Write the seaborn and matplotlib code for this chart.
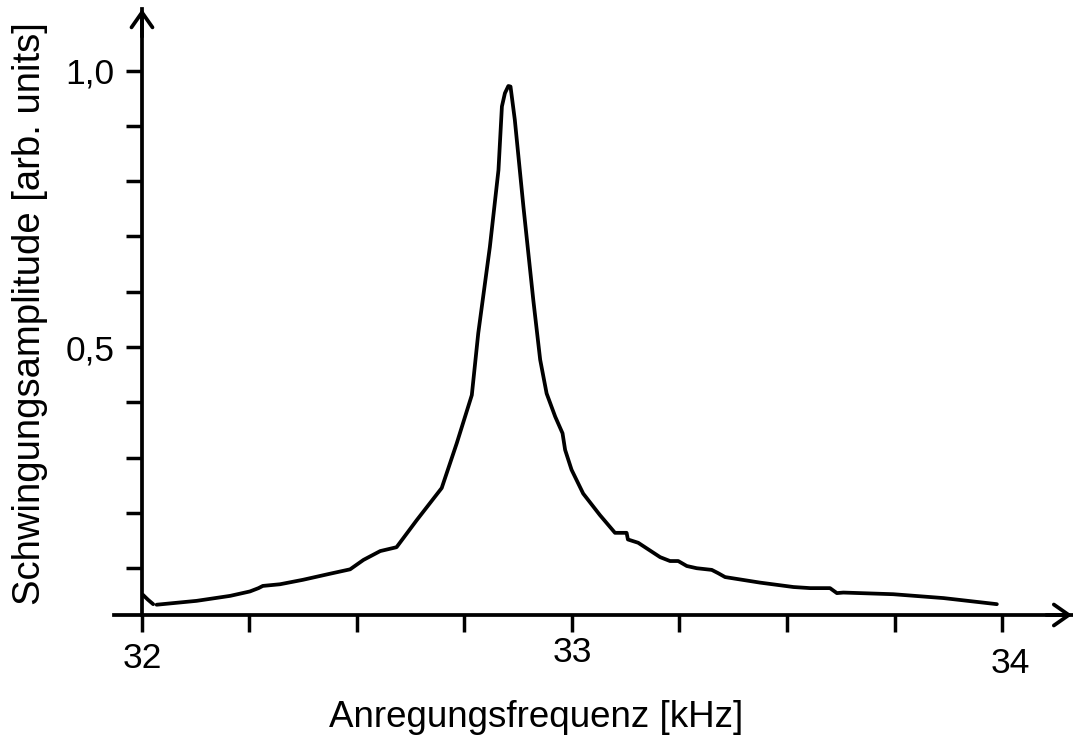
import matplotlib
matplotlib.use("Agg")
import matplotlib.pyplot as plt
import matplotlib.ticker as mticker
import matplotlib.transforms as mtransforms
import pandas as pd
import seaborn as sns

# resonance curve (kHz, arb. units), two segments
freq_a = [32.002, 32.014, 32.026]
amp_a = [0.052, 0.043, 0.035]

freq_b = [32.034, 32.127, 32.205, 32.251, 32.271, 32.281, 32.321, 32.374,
          32.437, 32.484, 32.515, 32.554, 32.592, 32.639, 32.697, 32.732,
          32.767, 32.782, 32.809, 32.829, 32.837, 32.844, 32.852, 32.857,
          32.867, 32.887, 32.910, 32.926, 32.941, 32.961, 32.978, 32.984,
          32.999, 33.026, 33.065, 33.100, 33.127, 33.130, 33.154, 33.205,
          33.228, 33.247, 33.267, 33.290, 33.325, 33.340, 33.356, 33.437,
          33.515, 33.554, 33.600, 33.616, 33.631, 33.747, 33.864, 33.988]
amp_b = [0.034, 0.041, 0.050, 0.058, 0.064, 0.068, 0.071, 0.079,
         0.090, 0.098, 0.115, 0.131, 0.138, 0.187, 0.245, 0.326,
         0.413, 0.525, 0.681, 0.820, 0.935, 0.959, 0.972, 0.971,
         0.911, 0.754, 0.585, 0.477, 0.416, 0.374, 0.344, 0.314,
         0.278, 0.235, 0.196, 0.164, 0.164, 0.152, 0.146, 0.120,
         0.113, 0.113, 0.104, 0.100, 0.097, 0.091, 0.084, 0.074,
         0.066, 0.064, 0.064, 0.055, 0.056, 0.053, 0.046, 0.035]

x_ticks = [32.0, 32.25, 32.5, 32.75, 33.0, 33.25, 33.5, 33.75, 34.0]
y_ticks = [0.1, 0.2, 0.3, 0.4, 0.5, 0.6, 0.7, 0.8, 0.9, 1.0]
y_labelled = [0.5, 1.0]

x_label = "Anregungsfrequenz [kHz]"
y_label = "Schwingungsamplitude [arb. units]"

# where the axes cross and where the arrows end
x_cross = 0.0154
x_start, x_tip = 31.935, 34.163
y_tip = 1.111

# the tick numbers in the original sit a bit unevenly (pixels right, down)
label_nudge = {"32": (0, 6), "34": (8, 11)}


def x_fmt(v, pos):
    if abs(v - round(v)) < 1e-6:
        return f"{v:.0f}"
    return ""


def y_fmt(v, pos):
    if any(abs(v - t) < 1e-6 for t in y_labelled):
        return f"{v:.1f}".replace(".", ",")
    return ""


def main():
    sns.set_theme(style="white")
    plt.rcParams["font.family"] = ["Liberation Sans", "DejaVu Sans"]
    plt.rcParams["font.size"] = 25.5
    plt.rcParams["text.color"] = "black"
    plt.rcParams["axes.labelcolor"] = "black"
    plt.rcParams["xtick.color"] = "black"
    plt.rcParams["ytick.color"] = "black"

    df = pd.DataFrame({
        "freq": freq_a + freq_b,
        "amp": amp_a + amp_b,
        "seg": [0] * len(freq_a) + [1] * len(freq_b),
    })

    fig = plt.figure(figsize=(10.73, 7.37), dpi=100)
    ax = fig.add_axes([0, 0, 1, 1])
    ax.set_facecolor("none")

    sns.lineplot(data=df, x="freq", y="amp", units="seg", estimator=None,
                 sort=False, color="black", lw=2.7, ax=ax, legend=False)

    ax.set_xlim(31.6698, 34.1651)
    ax.set_ylim(-0.2052, 1.1275)

    for side in ["top", "right"]:
        ax.spines[side].set_visible(False)
    ax.spines["left"].set_position(("data", 32.0))
    ax.spines["bottom"].set_position(("data", x_cross))
    ax.spines["left"].set_bounds(x_cross, y_tip)
    ax.spines["bottom"].set_bounds(x_start, x_tip)
    for side in ["left", "bottom"]:
        ax.spines[side].set_color("black")
        ax.spines[side].set_linewidth(2.7)

    ax.xaxis.set_major_locator(mticker.FixedLocator(x_ticks))
    ax.yaxis.set_major_locator(mticker.FixedLocator(y_ticks))
    ax.xaxis.set_major_formatter(mticker.FuncFormatter(x_fmt))
    ax.yaxis.set_major_formatter(mticker.FuncFormatter(y_fmt))
    ax.tick_params(axis="x", direction="out", length=12, width=2.5,
                   color="black", pad=3, labelsize=25.5, bottom=True,
                   labelcolor="black")
    ax.tick_params(axis="y", direction="out", length=11.5, width=2.5,
                   color="black", pad=8.5, labelsize=25.5, left=True,
                   labelcolor="black")

    fig.canvas.draw()
    for lab in ax.get_xticklabels():
        dx, dy = label_nudge.get(lab.get_text(), (0, 0))
        if dx or dy:
            shift = mtransforms.ScaledTranslation(dx / 100, -dy / 100,
                                                  fig.dpi_scale_trans)
            lab.set_transform(lab.get_transform() + shift)

    arrow = dict(arrowstyle="->, head_length=0.6, head_width=0.42",
                 lw=2.7, color="black", shrinkA=0, shrinkB=0,
                 mutation_scale=18)
    ax.annotate("", xy=(x_tip, x_cross), xytext=(x_tip - 0.06, x_cross),
                arrowprops=arrow, annotation_clip=False)
    ax.annotate("", xy=(32.0, y_tip), xytext=(32.0, y_tip - 0.05),
                arrowprops=arrow, annotation_clip=False)

    ax.set_xlabel(x_label, fontsize=26.5, va="baseline", color="black")
    ax.xaxis.set_label_coords(536 / 1073, 10 / 737)
    ax.set_ylabel(y_label, fontsize=27.5, va="center", color="black")
    ax.yaxis.set_label_coords(30 / 1073, 1 - 314 / 737)

    fig.savefig("out.png", dpi=100)
    plt.close(fig)


if __name__ == "__main__":
    main()
